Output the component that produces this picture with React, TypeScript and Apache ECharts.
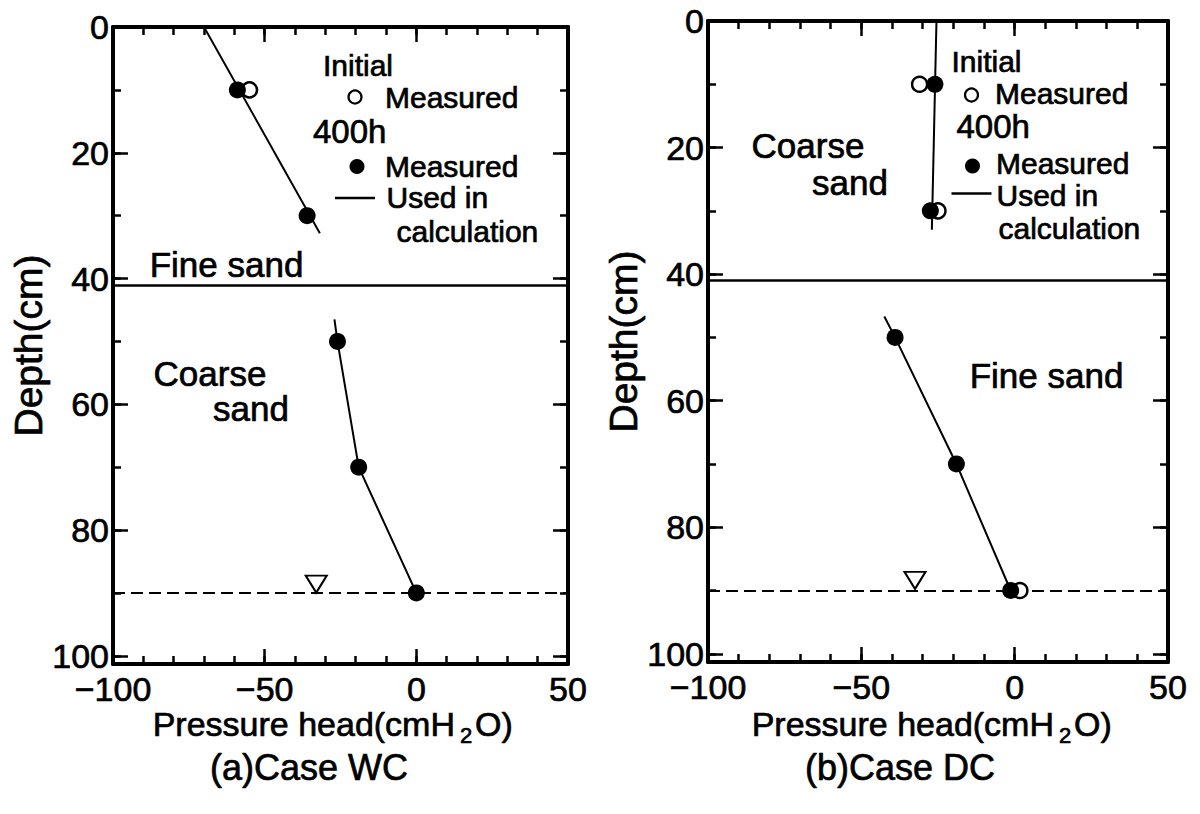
import React, { useEffect, useRef } from "react";
import * as echarts from "echarts";

// ---- Axis ranges and tick labels ----
const PRESSURE_MIN = -100;
const PRESSURE_MAX = 50;
const PRESSURE_LABELS = [-100, -50, 0, 50];
const DEPTH_MIN = 0;
const DEPTH_MAX = 101.3; // the frame runs slightly past 100 cm
const DEPTH_LABELS = [0, 20, 40, 60, 80, 100];

// ---- Layer interface and water table depth (cm) ----
const LAYER_INTERFACE_DEPTH = 41;
const WATER_TABLE_DEPTH = 90;

// ---- (a) Case WC : [pressure head (cmH2O), depth (cm)] ----
const WC_INITIAL_MEASURED = [[-55, 10]];
const WC_400H_MEASURED = [[-59, 10], [-36, 30], [-26, 50], [-19, 70], [0, 90]];
const WC_CALC_UPPER = [[-70, 0], [-31.8, 32.8]];
const WC_CALC_LOWER = [[-27, 46.5], [-26, 50], [-19, 70], [0, 90]];
const WC_WATER_MARK = [[-33, 88.6]];

// ---- (b) Case DC ----
const DC_INITIAL_MEASURED = [[-31, 10], [-25, 30], [1.7, 90]];
const DC_400H_MEASURED = [[-26, 10], [-27.5, 30], [-39, 50], [-19, 70], [-1.3, 90]];
const DC_CALC_UPPER = [[-25.5, 0], [-27, 33]];
const DC_CALC_LOWER = [[-42.5, 46.7], [-39, 50], [-19, 70], [-1.3, 90]];
const DC_WATER_MARK = [[-32.5, 88.4]];

const FONT = '"Liberation Sans", Arial, Helvetica, sans-serif';
const INK = "#000";
const TEXT_HEAVY = 0.7; // thin outline to give the lettering a heavier weight

const fmtPressure = (v: number) => (v < 0 ? `\u2212${-v}` : `${v}`);

function xAxesFor(gridIndex: number) {
  const common = {
    type: "value",
    gridIndex,
    min: PRESSURE_MIN,
    max: PRESSURE_MAX,
    splitLine: { show: false },
  };
  const main = (position: string, withLabels: boolean) => ({
    ...common,
    position,
    interval: 50,
    axisLine: { show: true, onZero: false, lineStyle: { color: INK, width: 4 } },
    axisTick: { show: true, inside: true, length: 15, lineStyle: { color: INK, width: 2.5 } },
    axisLabel: withLabels
      ? {
          show: true,
          margin: 8,
          fontSize: 34,
          fontFamily: FONT,
          color: INK,
          textBorderColor: INK,
          textBorderWidth: TEXT_HEAVY,
          formatter: (v: number) => (PRESSURE_LABELS.includes(v) ? fmtPressure(v) : ""),
        }
      : { show: false },
  });
  const minor = (position: string) => ({
    ...common,
    position,
    interval: 10,
    axisLine: { show: false, onZero: false },
    axisTick: { show: true, inside: true, length: 8, lineStyle: { color: INK, width: 2.5 } },
    axisLabel: { show: false },
  });
  return [main("bottom", true), minor("bottom"), main("top", false), minor("top")];
}

function yAxesFor(gridIndex: number, nameGap: number) {
  const common = {
    type: "value",
    gridIndex,
    inverse: true,
    min: DEPTH_MIN,
    max: DEPTH_MAX,
    splitLine: { show: false },
  };
  const main = (position: string, withLabels: boolean) => ({
    ...common,
    position,
    interval: 20,
    axisLine: { show: true, onZero: false, lineStyle: { color: INK, width: 4 } },
    axisTick: { show: true, inside: true, length: 15, lineStyle: { color: INK, width: 2.5 } },
    axisLabel: withLabels
      ? {
          show: true,
          margin: 4,
          fontSize: 34,
          fontFamily: FONT,
          color: INK,
          textBorderColor: INK,
          textBorderWidth: TEXT_HEAVY,
          formatter: (v: number) => (DEPTH_LABELS.includes(v) ? String(v) : ""),
        }
      : { show: false },
    ...(withLabels
      ? {
          name: "Depth(cm)",
          nameLocation: "middle",
          nameRotate: 90,
          nameGap,
          nameTextStyle: {
            fontSize: 39,
            fontFamily: FONT,
            color: INK,
            textBorderColor: INK,
            textBorderWidth: TEXT_HEAVY,
          },
        }
      : {}),
  });
  const minor = (position: string) => ({
    ...common,
    position,
    interval: 10,
    axisLine: { show: false, onZero: false },
    axisTick: { show: true, inside: true, length: 8, lineStyle: { color: INK, width: 2.5 } },
    axisLabel: { show: false },
  });
  return [main("left", true), minor("left"), main("right", false), minor("right")];
}

type Panel = {
  initial: number[][];
  measured: number[][];
  calcUpper: number[][];
  calcLower: number[][];
  waterMark: number[][];
};

function panelSeries(axisIndex: number, p: Panel) {
  const ax = { xAxisIndex: axisIndex, yAxisIndex: axisIndex, silent: true };
  const calcLine = { type: "line", symbol: "none", showSymbol: false, lineStyle: { color: INK, width: 2 }, z: 3 };
  return [
    {
      ...ax,
      type: "scatter",
      name: "Initial measured",
      data: p.initial,
      symbol: "circle",
      symbolSize: 15,
      itemStyle: { color: "#fff", borderColor: INK, borderWidth: 2.5, opacity: 1 },
      z: 4,
    },
    { ...ax, ...calcLine, name: "Used in calculation", data: p.calcUpper },
    { ...ax, ...calcLine, name: "Used in calculation (lower)", data: p.calcLower },
    {
      ...ax,
      type: "scatter",
      name: "400h measured",
      data: p.measured,
      symbol: "circle",
      symbolSize: 17,
      itemStyle: { color: INK, opacity: 1 },
      z: 5,
    },
    {
      ...ax,
      type: "scatter",
      name: "Water table",
      data: p.waterMark,
      symbol: "triangle",
      symbolRotate: 180,
      symbolSize: [21, 17],
      itemStyle: { color: "#fff", borderColor: INK, borderWidth: 2, opacity: 1 },
      z: 6,
      markLine: {
        silent: true,
        symbol: ["none", "none"],
        label: { show: false },
        z: 2,
        data: [
          { yAxis: LAYER_INTERFACE_DEPTH, lineStyle: { color: INK, width: 2.5, type: "solid", opacity: 1 } },
          { yAxis: WATER_TABLE_DEPTH, lineStyle: { color: INK, width: 2, type: [12, 6], opacity: 1 } },
        ],
      },
    },
  ];
}

const txt = (text: string, x: number, y: number, size: number, align = "left") => ({
  type: "text",
  x,
  y,
  silent: true,
  style: {
    text,
    fill: INK,
    stroke: INK,
    lineWidth: TEXT_HEAVY,
    font: `${size}px ${FONT}`,
    textAlign: align,
    textVerticalAlign: "middle",
  },
});

// "Pressure head(cmH₂O)" with a lowered, smaller 2; x is where "O)" begins
const pressureTitle = (x: number, y: number) => [
  txt("Pressure head(cmH", x - 20, y, 34, "right"),
  txt("2", x - 15, y + 11, 22),
  txt("O)", x, y, 34),
];

const openDot = (cx: number, cy: number) => ({
  type: "circle",
  silent: true,
  shape: { cx, cy, r: 6.5 },
  style: { fill: "#fff", stroke: INK, lineWidth: 2.2 },
});

const solidDot = (cx: number, cy: number) => ({
  type: "circle",
  silent: true,
  shape: { cx, cy, r: 7.5 },
  style: { fill: INK },
});

const legendLine = (x1: number, x2: number, y: number) => ({
  type: "line",
  silent: true,
  shape: { x1, y1: y, x2, y2: y },
  style: { stroke: INK, lineWidth: 2.5 },
});

export default function App() {
  const ref = useRef<HTMLDivElement>(null);

  useEffect(() => {
    if (!ref.current) return;
    const chart = echarts.init(ref.current, null, { renderer: "svg" });

    const option: any = {
      animation: false,
      backgroundColor: "#fff",
      grid: [
        { left: 113, top: 27, width: 455, height: 637 },
        { left: 708, top: 21, width: 460, height: 641 },
      ],
      xAxis: [...xAxesFor(0), ...xAxesFor(1)],
      yAxis: [...yAxesFor(0, 58), ...yAxesFor(1, 60)],
      series: [
        ...panelSeries(0, {
          initial: WC_INITIAL_MEASURED,
          measured: WC_400H_MEASURED,
          calcUpper: WC_CALC_UPPER,
          calcLower: WC_CALC_LOWER,
          waterMark: WC_WATER_MARK,
        }),
        ...panelSeries(4, {
          initial: DC_INITIAL_MEASURED,
          measured: DC_400H_MEASURED,
          calcUpper: DC_CALC_UPPER,
          calcLower: DC_CALC_LOWER,
          waterMark: DC_WATER_MARK,
        }),
      ],
      graphic: [
        // (a) legend block
        txt("Initial", 323, 65, 30),
        openDot(355, 97),
        txt("Measured", 385, 97.5, 30),
        txt("400h", 313, 131, 33),
        solidDot(357, 166.5),
        txt("Measured", 385, 166.5, 30),
        legendLine(335, 375, 198),
        txt("Used in", 386.5, 197.5, 30),
        txt("calculation", 396.5, 231.5, 30),
        // (a) layer names
        txt("Fine sand", 226.5, 264, 35, "center"),
        txt("Coarse", 210, 373, 35, "center"),
        txt("sand", 251, 408, 35, "center"),
        // (b) legend block
        txt("Initial", 951.5, 61.5, 30),
        openDot(971.5, 95),
        txt("Measured", 995, 93.5, 30),
        txt("400h", 956.5, 126.5, 33),
        solidDot(972.5, 166),
        txt("Measured", 996, 163.5, 30),
        legendLine(951.5, 991.5, 193.5),
        txt("Used in", 996.5, 195, 30),
        txt("calculation", 998.5, 228.5, 30),
        // (b) layer names
        txt("Coarse", 808, 145, 35, "center"),
        txt("sand", 850, 182, 35, "center"),
        txt("Fine sand", 1046.5, 375, 35, "center"),
        // x-axis titles
        ...pressureTitle(475, 724),
        ...pressureTitle(1074, 724),
        // captions
        txt("(a)Case WC", 309, 767, 36, "center"),
        txt("(b)Case DC", 900, 767, 36, "center"),
      ],
    };

    chart.setOption(option);
    return () => chart.dispose();
  }, []);

  return (
    <div
      ref={ref}
      style={{ position: "absolute", left: 0, top: 0, width: 1200, height: 814, background: "#fff" }}
    />
  );
}
